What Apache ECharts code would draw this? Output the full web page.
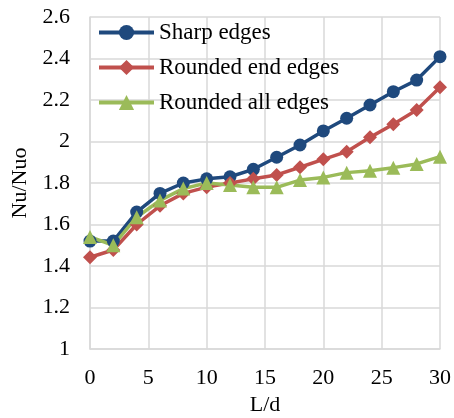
<!DOCTYPE html>
<html>
<head>
<meta charset="utf-8">
<script src="https://cdn.jsdelivr.net/npm/echarts@6/dist/echarts.min.js"></script>
<style>html,body{margin:0;padding:0;background:#fff;}#c{width:454px;height:418px;}</style>
</head>
<body>
<div id="c"></div>
<script>
var xValues = [0, 2, 4, 6, 8, 10, 12, 14, 16, 18, 20, 22, 24, 26, 28, 30];
var sharpEdges = [1.52, 1.52, 1.66, 1.75, 1.80, 1.82, 1.83, 1.866, 1.924, 1.983, 2.051, 2.112, 2.176, 2.24, 2.296, 2.409];
var roundedEndEdges = [1.442, 1.477, 1.60, 1.69, 1.75, 1.78, 1.80, 1.82, 1.839, 1.876, 1.914, 1.951, 2.02, 2.083, 2.152, 2.261];
var roundedAllEdges = [1.54, 1.50, 1.635, 1.716, 1.773, 1.80, 1.79, 1.779, 1.779, 1.814, 1.827, 1.850, 1.859, 1.874, 1.892, 1.927];
var seriesNames = ['Sharp edges', 'Rounded end edges', 'Rounded all edges'];

function pairs(vals) { return xValues.map(function (x, i) { return [x, vals[i]]; }); }

var font = 'Liberation Serif, Times New Roman, serif';
var chart = echarts.init(document.getElementById('c'), null, {renderer: 'canvas'});
var gridColor = '#d9d9d9';
chart.setOption({
  animation: false,
  textStyle: {fontFamily: font},
  grid: {left: 90, right: 14, top: 17, bottom: 69, containLabel: false, outerBoundsMode: 'none'},
  legend: {
    left: 92, top: 16, orient: 'vertical', itemGap: 12,
    itemWidth: 55, itemHeight: 19,
    lineStyle: {width: 4},
    textStyle: {fontFamily: font, fontSize: 23, color: '#000'},
    data: seriesNames
  },
  xAxis: {
    type: 'value', min: 0, max: 30, interval: 5,
    name: 'L/d', nameLocation: 'middle', nameGap: 44,
    nameTextStyle: {fontFamily: font, fontSize: 22, color: '#000'},
    axisLine: {show: true, lineStyle: {color: gridColor, width: 1.5}},
    axisTick: {show: false},
    axisLabel: {fontFamily: font, fontSize: 22, color: '#000', margin: 18},
    splitLine: {show: true, lineStyle: {color: gridColor, width: 1.5}}
  },
  yAxis: {
    type: 'value', min: 1, max: 2.6, interval: 0.2,
    name: 'Nu/Nuo', nameLocation: 'middle', nameGap: 53, nameRotate: 90,
    nameTextStyle: {fontFamily: font, fontSize: 22, color: '#000'},
    axisLine: {show: true, lineStyle: {color: gridColor, width: 1.5}},
    axisTick: {show: false},
    axisLabel: {fontFamily: font, fontSize: 22, color: '#000', margin: 20},
    splitLine: {show: true, lineStyle: {color: gridColor, width: 1.5}}
  },
  series: [
    {name: seriesNames[0], type: 'line', data: pairs(sharpEdges), symbol: 'circle', symbolSize: 13,
     lineStyle: {width: 3.5, color: '#1f497d'}, itemStyle: {color: '#1f497d'}},
    {name: seriesNames[1], type: 'line', data: pairs(roundedEndEdges), symbol: 'diamond', symbolSize: 14,
     lineStyle: {width: 3.5, color: '#c0504d'}, itemStyle: {color: '#c0504d'}},
    {name: seriesNames[2], type: 'line', data: pairs(roundedAllEdges), symbol: 'triangle', symbolSize: 14,
     lineStyle: {width: 3.5, color: '#9bbb59'}, itemStyle: {color: '#9bbb59'}}
  ]
});
</script>
</body>
</html>
